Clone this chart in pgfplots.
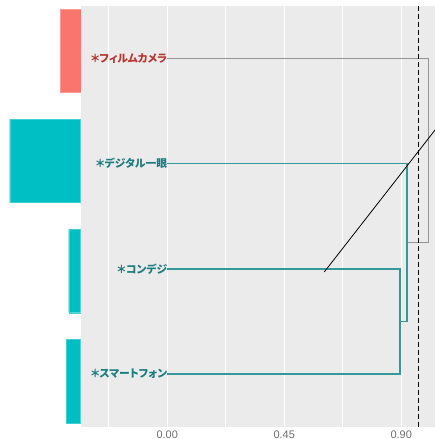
\documentclass[border=0pt]{standalone}
\usepackage{fontspec}
\setmainfont{Liberation Sans}
\newfontfamily\jp{Noto Sans CJK JP}[RawFeature=+palt]
\usepackage{pgfplots}
\pgfplotsset{compat=1.18}
\definecolor{panel}{HTML}{EBEBEB}
\definecolor{salmonbar}{HTML}{F8766D}
\definecolor{tealbar}{HTML}{00BFC4}
\definecolor{labred}{HTML}{B8372E}
\definecolor{labteal}{HTML}{1A7C7F}
\definecolor{branchteal}{HTML}{35999B}
\definecolor{branchgray}{HTML}{959595}
\definecolor{ticktext}{HTML}{6E6E6E}
\begin{document}
\begin{tikzpicture}
\path[use as bounding box] (0bp,0bp) rectangle (435bp,439bp);
% left bars
\begin{axis}[at={(0bp,0bp)}, anchor=south west, scale only axis,
  width=80.7bp, height=439bp,
  xmin=-80.7, xmax=0, ymin=0.54, ymax=4.524, y dir=reverse,
  hide axis, xbar, bar width=0.756, clip=false]
\addplot[fill=salmonbar, draw=salmonbar!75!white, bar shift=0pt] coordinates {(-20.4,1)};
\addplot[fill=tealbar, draw=tealbar!75!white, bar shift=0pt] coordinates {(-71,2) (-12,3) (-14.7,4)};
\end{axis}
% dendrogram panel
\begin{axis}[at={(80.7bp,12.3bp)}, anchor=south west, scale only axis,
  width=354.3bp, height=421bp,
  xmin=-0.333, xmax=1.03, ymin=0.5, ymax=4.5, y dir=reverse,
  axis background/.style={fill=panel},
  axis line style={draw=none},
  xtick={0,0.45,0.9}, xticklabels={0.00,0.45,0.90},
  minor xtick={-0.225,0.225,0.675},
  ytick=\empty,
  major tick length=0pt, minor tick length=0pt, tick style={draw=none},
  xmajorgrids, xminorgrids,
  major grid style={white, line width=1.1bp},
  minor grid style={white, line width=0.6bp},
  xticklabel style={font=\fontsize{11}{13}\selectfont, text=ticktext, inner sep=0pt, anchor=north, yshift=-4.3bp}]
\addplot[branchgray, line width=1.3bp] coordinates {(0,1) (1.004,1) (1.004,2.75) (0.923,2.75)};
\addplot[branchteal, line width=1.8bp] coordinates {(0,2) (0.923,2) (0.923,3.5) (0.896,3.5)};
\addplot[branchteal, line width=1.8bp] coordinates {(0,3) (0.896,3) (0.896,4) (0,4)};
\addplot[black, line width=0.9bp, dash pattern=on 5bp off 3bp] coordinates {(0.967,0.5) (0.967,4.5)};
\addplot[black, line width=0.8bp] coordinates {(0.604,3.03) (1.1,1.46)};
\node[anchor=east, inner sep=0bp, text=labred, font=\fontsize{10.8}{12}\selectfont\jp\bfseries] at (axis cs:0,1) {＊フィルムカメラ};
\node[anchor=east, inner sep=0bp, text=labteal, font=\fontsize{10.8}{12}\selectfont\jp\bfseries] at (axis cs:0,2) {＊デジタル一眼};
\node[anchor=east, inner sep=0bp, text=labteal, font=\fontsize{10.8}{12}\selectfont\jp\bfseries] at (axis cs:0,3) {＊コンデジ};
\node[anchor=east, inner sep=0bp, text=labteal, font=\fontsize{10.8}{12}\selectfont\jp\bfseries] at (axis cs:0,4) {＊スマートフォン};
\end{axis}
\end{tikzpicture}
\end{document}
